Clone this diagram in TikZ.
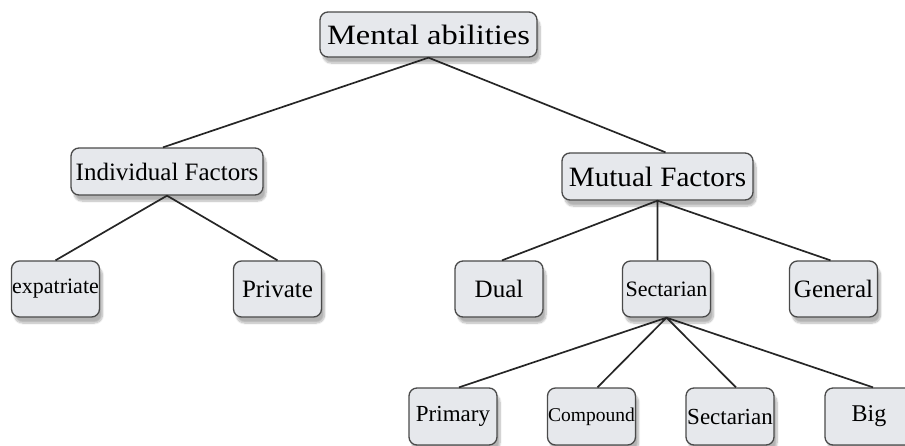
\documentclass[tikz,border=0pt]{standalone}
\usepackage{graphicx}
\usepackage{fontspec}
\setmainfont{Liberation Serif}
\usepackage{tikz}
\usetikzlibrary{shadows.blur}

\definecolor{boxfill}{HTML}{E6E8EC}
\definecolor{boxline}{HTML}{4A4A4A}

\begin{document}
\begin{tikzpicture}[x=1pt,y=-1pt,
  box/.style={draw=boxline,fill=boxfill,line width=1.3pt,rounded corners=8pt,
    inner sep=0pt,minimum width=88pt,minimum height=56pt,
    font=\fontsize{25}{30}\selectfont,
    blur shadow={shadow xshift=3pt,shadow yshift=-6pt,shadow blur steps=8,shadow opacity=30}},
  link/.style={draw=black!85,line width=1.7pt}]
  \useasboundingbox (0,0) rectangle (905,445);
  % Define the boxes of the tree
  \path (428.5,34.5) node[box,minimum width=217pt,minimum height=45pt,font=\fontsize{28}{32}\selectfont] (ment) {\scalebox{1.16}[1]{Mental abilities}};
  \path (167,171.5) node[box,minimum width=192pt,minimum height=47pt] (indiv) {Individual Factors};
  \path (657.5,176.5) node[box,minimum width=191pt,minimum height=47pt,font=\fontsize{28}{32}\selectfont] (mutu) {\scalebox{1.04}[1]{Mutual Factors}};
  \path (55.5,289) node[box,font=\fontsize{22}{26}\selectfont] (expa) {expatriate};
  \path (277.5,289) node[box] (priv) {Private};
  \path (499,289) node[box] (dual) {Dual};
  \path (666.5,289) node[box,font=\fontsize{22}{26}\selectfont] (sect) {Sectarian};
  \path (833.5,289) node[box] (gene) {General};
  \path (453,416.5) node[box,minimum height=57pt,font=\fontsize{23}{27}\selectfont] (prim) {Primary};
  \path (591.5,416.5) node[box,minimum height=57pt,font=\fontsize{19.5}{23}\selectfont] (comp) {Compound};
  \path (730,416.5) node[box,minimum height=57pt,font=\fontsize{23}{27}\selectfont] (sect2) {Sectarian};
  \path (869,416.5) node[box,minimum height=57pt,font=\fontsize{24}{28}\selectfont] (big) {Big};
  % Draw the branches
  \draw[link] (ment.south) -- ([xshift=-4pt]indiv.north) (ment.south) -- ([xshift=8pt]mutu.north);
  \draw[link] (indiv.south) -- (expa.north) (indiv.south) -- (priv.north);
  \draw[link] (mutu.south) -- ([xshift=3pt]dual.north) (mutu.south) -- (mutu.south |- sect.north) (mutu.south) -- ([xshift=-3pt]gene.north);
  \draw[link] (sect.south) -- ([xshift=6pt]prim.north) (sect.south) -- ([xshift=6pt]comp.north) (sect.south) -- ([xshift=6pt]sect2.north) (sect.south) -- ([xshift=4pt]big.north);
\end{tikzpicture}
\end{document}
